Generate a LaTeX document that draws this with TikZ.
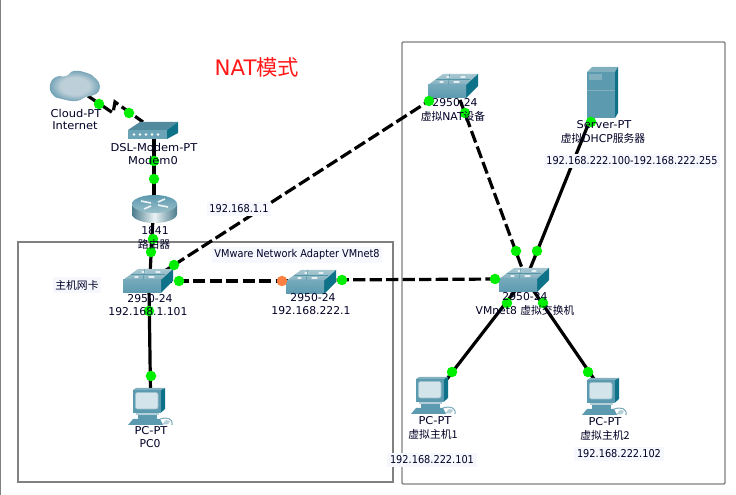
\documentclass[tikz,border=0pt]{standalone}
\usepackage{fontspec}
\setmainfont{DejaVu Sans}
\newfontfamily\cjk{Noto Sans CJK SC}
\newcommand{\cn}[1]{{\cjk #1}}
\newcommand{\tight}[1]{\scalebox{0.905}[1]{#1}}
\newcommand{\loose}[1]{\scalebox{1.06}[1]{#1}}
\definecolor{edgegray}{HTML}{808080}
\definecolor{linkgreen}{HTML}{00EE00}
\definecolor{linkorange}{HTML}{FF8040}
\definecolor{devfront}{HTML}{5C9AAF}
\definecolor{devside}{HTML}{0E7389}
\definecolor{devtop}{HTML}{82AFBE}
\definecolor{labelbg}{HTML}{F6F8FE}
\definecolor{screenblue}{HTML}{D3E4EB}
\definecolor{cloudmid}{HTML}{BDCFD8}
\definecolor{cloudrim}{HTML}{6B9EB3}
\pgfdeclareradialshading{cloudglow}{\pgfpoint{0bp}{0bp}}{color(0bp)=(cloudmid); color(14bp)=(cloudmid); color(26bp)=(cloudrim); color(50bp)=(cloudrim)}
\tikzset{
  x=0.75pt,y=-0.75pt,
  frame/.style={draw=edgegray,line width=1.1pt},
  solidlink/.style={draw=black,line width=2.4pt},
  dashlink/.style={draw=black,line width=2.4pt,dash pattern=on 9.2pt off 3.2pt},
  port/.style={circle,fill=linkgreen,inner sep=0pt,minimum size=10.5pt*0.75},
  portoff/.style={port,fill=linkorange},
  tag/.style={inner sep=0pt,font=\fontsize{8.1}{9.7}\selectfont,text=black!85!blue},
  iptag/.style={tag,fill=labelbg,inner xsep=2pt,inner ysep=2pt},
  switchicon/.pic={
    \path[top color=devtop!70!white,bottom color=devtop] (0,0) -- (38,0) -- (50,-11) -- (15,-11) -- cycle;
    \fill[devside] (38,0) -- (50,-11) -- (50,1) -- (38,13) -- cycle;
    \path[top color=devfront!85!white,bottom color=devfront] (0,0) rectangle (38,13);
    \draw[white!80!devtop,line width=0.9pt,line cap=round]
      (12,-3) -- (15,-3) (26,-3) -- (31,-3) (19,-8) -- (22,-8) (33,-8) -- (37,-8);
    \draw[devtop!60!devside,line width=0.4pt] (8,-5.5) -- (42,-5.5) (22,-11) -- (20,0);
  },
  pcicon/.pic={
    % mouse cable and base
    \draw[devtop,line width=0.8pt] (27,29) .. controls (34,27) and (40,28) .. (39,35);
    \fill[devtop!60!white] (29,34.5) -- (33,30) -- (37,31) -- (35,34.5) -- cycle;
    \fill[devfront] (-5,35) -- (0,29) -- (27,29) -- (30,35) -- cycle;
    \fill[devtop!60!white] (3,22) rectangle (26,25);
    \fill[devfront] (5,25) rectangle (24,29);
    % monitor
    \fill[devside] (27.5,0) -- (32,-2) -- (32,19) -- (27.5,23) -- cycle;
    \fill[devtop] (0,0) -- (3,-2) -- (32,-2) -- (27.5,0) -- cycle;
    \fill[devfront] (0,0) rectangle (27.5,23);
    \fill[screenblue,draw=white!40!devfront,line width=0.5pt,rounded corners=1.5pt] (2.5,2.5) rectangle (25,19);
  },
  servericon/.pic={
    \fill[devtop] (0,5) -- (5,0) -- (31,0) -- (28,5) -- cycle;
    \fill[devside] (28,5) -- (31,0) -- (31,46) -- (28,51) -- cycle;
    \fill[devfront] (0,5) rectangle (28,51);
    \fill[devtop] (2,7.5) rectangle (15,13);
    \draw[devtop,line width=0.6pt] (0,23) -- (28,23);
  },
  modemicon/.pic={
    \fill[devfront!90!black] (0,8) -- (12,0) -- (50,0) -- (39,8) -- cycle;
    \fill[devside] (39,8) -- (50,0) -- (50,11) -- (39,17) -- cycle;
    \fill[devfront!90!white] (0,8) rectangle (39,17);
    \foreach \d in {6,12,18,24,30}{\fill[white] (\d,12.5) circle (1.3);}
  },
  routericon/.pic={
    \path[left color=devfront!80!black,right color=devfront!80!black,middle color=white!85!devtop]
      (0,9) -- (0,19) arc[start angle=180,end angle=360,x radius=22.5,y radius=-9] -- (45,9) -- cycle;
    \path[top color=devfront,bottom color=devtop!80!white] (22.5,9) ellipse (22.5 and 9);
    \draw[white!85!devtop,line width=1.2pt] (9,6) -- (19,8) (36,12) -- (26,10) (19,11) -- (12,14) (26,7) -- (33,4);
  },
}
\begin{document}
\begin{tikzpicture}
\useasboundingbox (0,0) rectangle (736,495);
\fill[white] (0,0) rectangle (736,495);
\fill[edgegray] (0,0) rectangle (1.3,495);

% enclosing frames
\draw[frame] (18,242) rectangle (393,482);
\draw[frame,rounded corners=0.8pt] (402,42) rectangle (725,484);

% device positions
\coordinate (modem) at (128,122);
\coordinate (router) at (132,195);
\coordinate (hostsw) at (123,280);
\coordinate (adapter) at (286,281);
\coordinate (natsw) at (428,85);
\coordinate (server) at (587,67);
\coordinate (vmsw) at (499,279);
\coordinate (pczero) at (133,390);
\coordinate (pcone) at (416,379);
\coordinate (pctwo) at (587,380);

% where the cables disappear behind the icons
\coordinate (cloudport) at (88,96);
\coordinate (kinka) at (113,113);
\coordinate (kinkb) at (115,102);
\coordinate (modemup) at (143,122);
\coordinate (modemdown) at (154,135);
\coordinate (routerup) at (154,200);
\coordinate (routerdown) at (153,218);
\coordinate (hostup) at (150,275);
\coordinate (hostdown) at (149,288);
\coordinate (hostne) at (160,274);
\coordinate (hostright) at (160,281);
\coordinate (pczeroup) at (150.5,392);
\coordinate (adapterleft) at (290,281);
\coordinate (adapterright) at (320,280);
\coordinate (vmleft) at (503,279);
\coordinate (natdown) at (460,100);
\coordinate (natleft) at (432,99);
\coordinate (serverdown) at (592,115);
\coordinate (vmupa) at (522,268);
\coordinate (vmupb) at (530,269);
\coordinate (vmdowna) at (515,291);
\coordinate (vmdownb) at (533,290);
\coordinate (pconeup) at (447,379);
\coordinate (pctwoup) at (594,379);

% cables
\draw[dashlink] (cloudport) -- (kinka) -- (kinkb) -- (modemup);
\draw[solidlink] (modemdown) -- (routerup);
\draw[solidlink] (routerdown) -- (hostup);
\draw[solidlink] (hostdown) -- (pczeroup);
\draw[dashlink] (hostne) -- (natleft);
\draw[dashlink] (hostright) -- (adapterleft);
\draw[dashlink] (adapterright) -- (vmleft);
\draw[dashlink] (natdown) -- (vmupa);
\draw[solidlink] (serverdown) -- (vmupb);
\draw[solidlink] (vmdowna) -- (pconeup);
\draw[solidlink] (vmdownb) -- (pctwoup);

% device icons
\path[shading=cloudglow]
  plot[smooth cycle,tension=0.8] coordinates {(50,85) (56,77) (66,76) (74,71) (87,73) (95,78) (100,86) (96,94) (86,97) (76,101) (62,99) (53,95)};
\pic at (modem) {modemicon};
\pic at (router) {routericon};
\pic at (hostsw) {switchicon};
\pic at (adapter) {switchicon};
\pic at (natsw) {switchicon};
\pic at (vmsw) {switchicon};
\pic at (server) {servericon};
\pic at (pczero) {pcicon};
\pic at (pcone) {pcicon};
\pic at (pctwo) {pcicon};

% link state lights
\node[port] (la) at (99,104) {};
\node[port] (lb) at (129,113) {};
\node[port] (lc) at (154,161) {};
\node[port] (ld) at (154,179) {};
\node[port] (le) at (153,239) {};
\node[port] (lf) at (151,252) {};
\node[port] (lg) at (174,265) {};
\node[port] (lh) at (179,281) {};
\node[port] (li) at (149,311) {};
\node[port] (lj) at (151,376) {};
\node[portoff] (lk) at (282,281) {};
\node[port] (ll) at (342,280) {};
\node[port] (lm) at (495,279) {};
\node[port] (ln) at (429,101) {};
\node[port] (lo) at (465,113) {};
\node[port] (lp) at (591,122) {};
\node[port] (lq) at (516,251) {};
\node[port] (lr) at (537,251) {};
\node[port] (ls) at (507,303) {};
\node[port] (lt) at (543,303) {};
\node[port] (lu) at (452,372) {};
\node[port] (lv) at (588,372) {};

% device captions
\node[tag] (t1) at (76,113) {\loose{Cloud-PT}};
\node[tag] (t2) at (75,126) {\loose{Internet}};
\node[tag] (t3) at (154,147) {\loose{DSL-Modem-PT}};
\node[tag] (t4) at (153,160) {\loose{Modem0}};
\node[tag] (t5) at (155,231) {1841};
\node[tag] (t6) at (154,244) {\cn{路由器}};
\node[tag] (t7) at (150,299) {2950-24};
\node[tag] (t8) at (148,312) {192.168.1.101};
\node[tag] (t9) at (151,431) {\loose{PC-PT}};
\node[tag] (t10) at (150,444) {PC0};
\node[tag] (t11) at (313,298) {2950-24};
\node[tag] (t12) at (311,311) {192.168.222.1};
\node[tag] (t13) at (455,103) {2950-24};
\node[tag] (t14) at (453,116) {\cn{虚拟}NAT\cn{设备}};
\node[tag] (t15) at (604,125) {\loose{Server-PT}};
\node[tag] (t16) at (603,138) {\cn{虚拟}DHCP\cn{服务器}};
\node[tag] (t17) at (525,297) {2950-24};
\node[tag] (t18) at (525,310) {VMnet8 \cn{虚拟交换机}};
\node[tag] (t19) at (435,421) {\loose{PC-PT}};
\node[tag] (t20) at (433,434) {\cn{虚拟主机1}};
\node[tag] (t21) at (605,422) {\loose{PC-PT}};
\node[tag] (t22) at (605,435) {\cn{虚拟主机2}};

% notes
\node[iptag] (n1) at (77,285) {\cn{主机网卡}};
\node[iptag] (n2) at (239,209) {\tight{192.168.1.1}};
\node[iptag] (n3) at (297,255) {\tight{VMware Network Adapter VMnet8}};
\node[iptag] (n4) at (632,161) {\tight{192.168.222.100-192.168.222.255}};
\node[iptag] (n5) at (432,460) {\tight{192.168.222.101}};
\node[iptag] (n6) at (619,454) {\tight{192.168.222.102}};
\node[inner sep=0pt,text=red!90!white,font=\fontsize{16}{18}\selectfont] (title) at (257,67) {NAT\cn{模式}};
\end{tikzpicture}
\end{document}
